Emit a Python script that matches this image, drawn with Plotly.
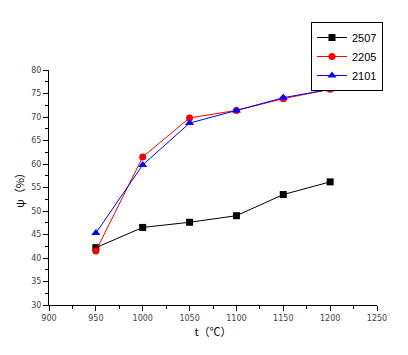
import plotly.graph_objects as go

temps = [950, 1000, 1050, 1100, 1150, 1200]
s2507 = [42.2, 46.5, 47.6, 49.0, 53.5, 56.2]
s2205 = [41.5, 61.5, 69.8, 71.4, 73.9, 75.9]
s2101 = [45.3, 59.8, 68.7, 71.4, 74.1, 75.9]

fig = go.Figure()
fig.add_trace(go.Scatter(x=temps, y=s2507, name="2507", mode="lines+markers",
                         line=dict(color="black", width=1),
                         marker=dict(symbol="square", size=7, color="black")))
fig.add_trace(go.Scatter(x=temps, y=s2205, name="2205", mode="lines+markers",
                         line=dict(color="red", width=1),
                         marker=dict(symbol="circle", size=7, color="red")))
fig.add_trace(go.Scatter(x=temps, y=s2101, name="2101", mode="lines+markers",
                         line=dict(color="blue", width=1),
                         marker=dict(symbol="triangle-up", size=8, color="blue")))

axis_common = dict(showline=True, linecolor="black", linewidth=1, ticks="outside",
                   ticklen=5, tickcolor="black", showgrid=False, zeroline=False,
                   automargin=False,
                   tickfont=dict(size=8, color="#444", family="DejaVu Sans"))
fig.update_xaxes(range=[900, 1250], dtick=50, tick0=900,
                 minor=dict(ticks="outside", dtick=25, ticklen=3, tickcolor="black"),
                 title=dict(text="t（℃）", font=dict(size=11, color="black", family="Noto Sans CJK SC"), standoff=6),
                 **axis_common)
fig.update_yaxes(range=[30, 80], dtick=5, tick0=30,
                 minor=dict(ticks="outside", dtick=2.5, ticklen=3, tickcolor="black"),
                 title=dict(text="ψ（%）", font=dict(size=11, color="black", family="Noto Sans CJK SC"), standoff=4),
                 **axis_common)

fig.update_layout(
    width=400, height=347,
    margin=dict(l=41, r=31, t=62, b=50, autoexpand=False),
    plot_bgcolor="white", paper_bgcolor="white",
    showlegend=True,
    legend=dict(xref="container", yref="container", x=375/400, y=1 - 14/347,
                xanchor="right", yanchor="top",
                bordercolor="black", borderwidth=1, bgcolor="white",
                font=dict(size=11, color="black", family="Liberation Sans"),
                tracegroupgap=0, itemwidth=30),
)
fig.write_html("out.html")
